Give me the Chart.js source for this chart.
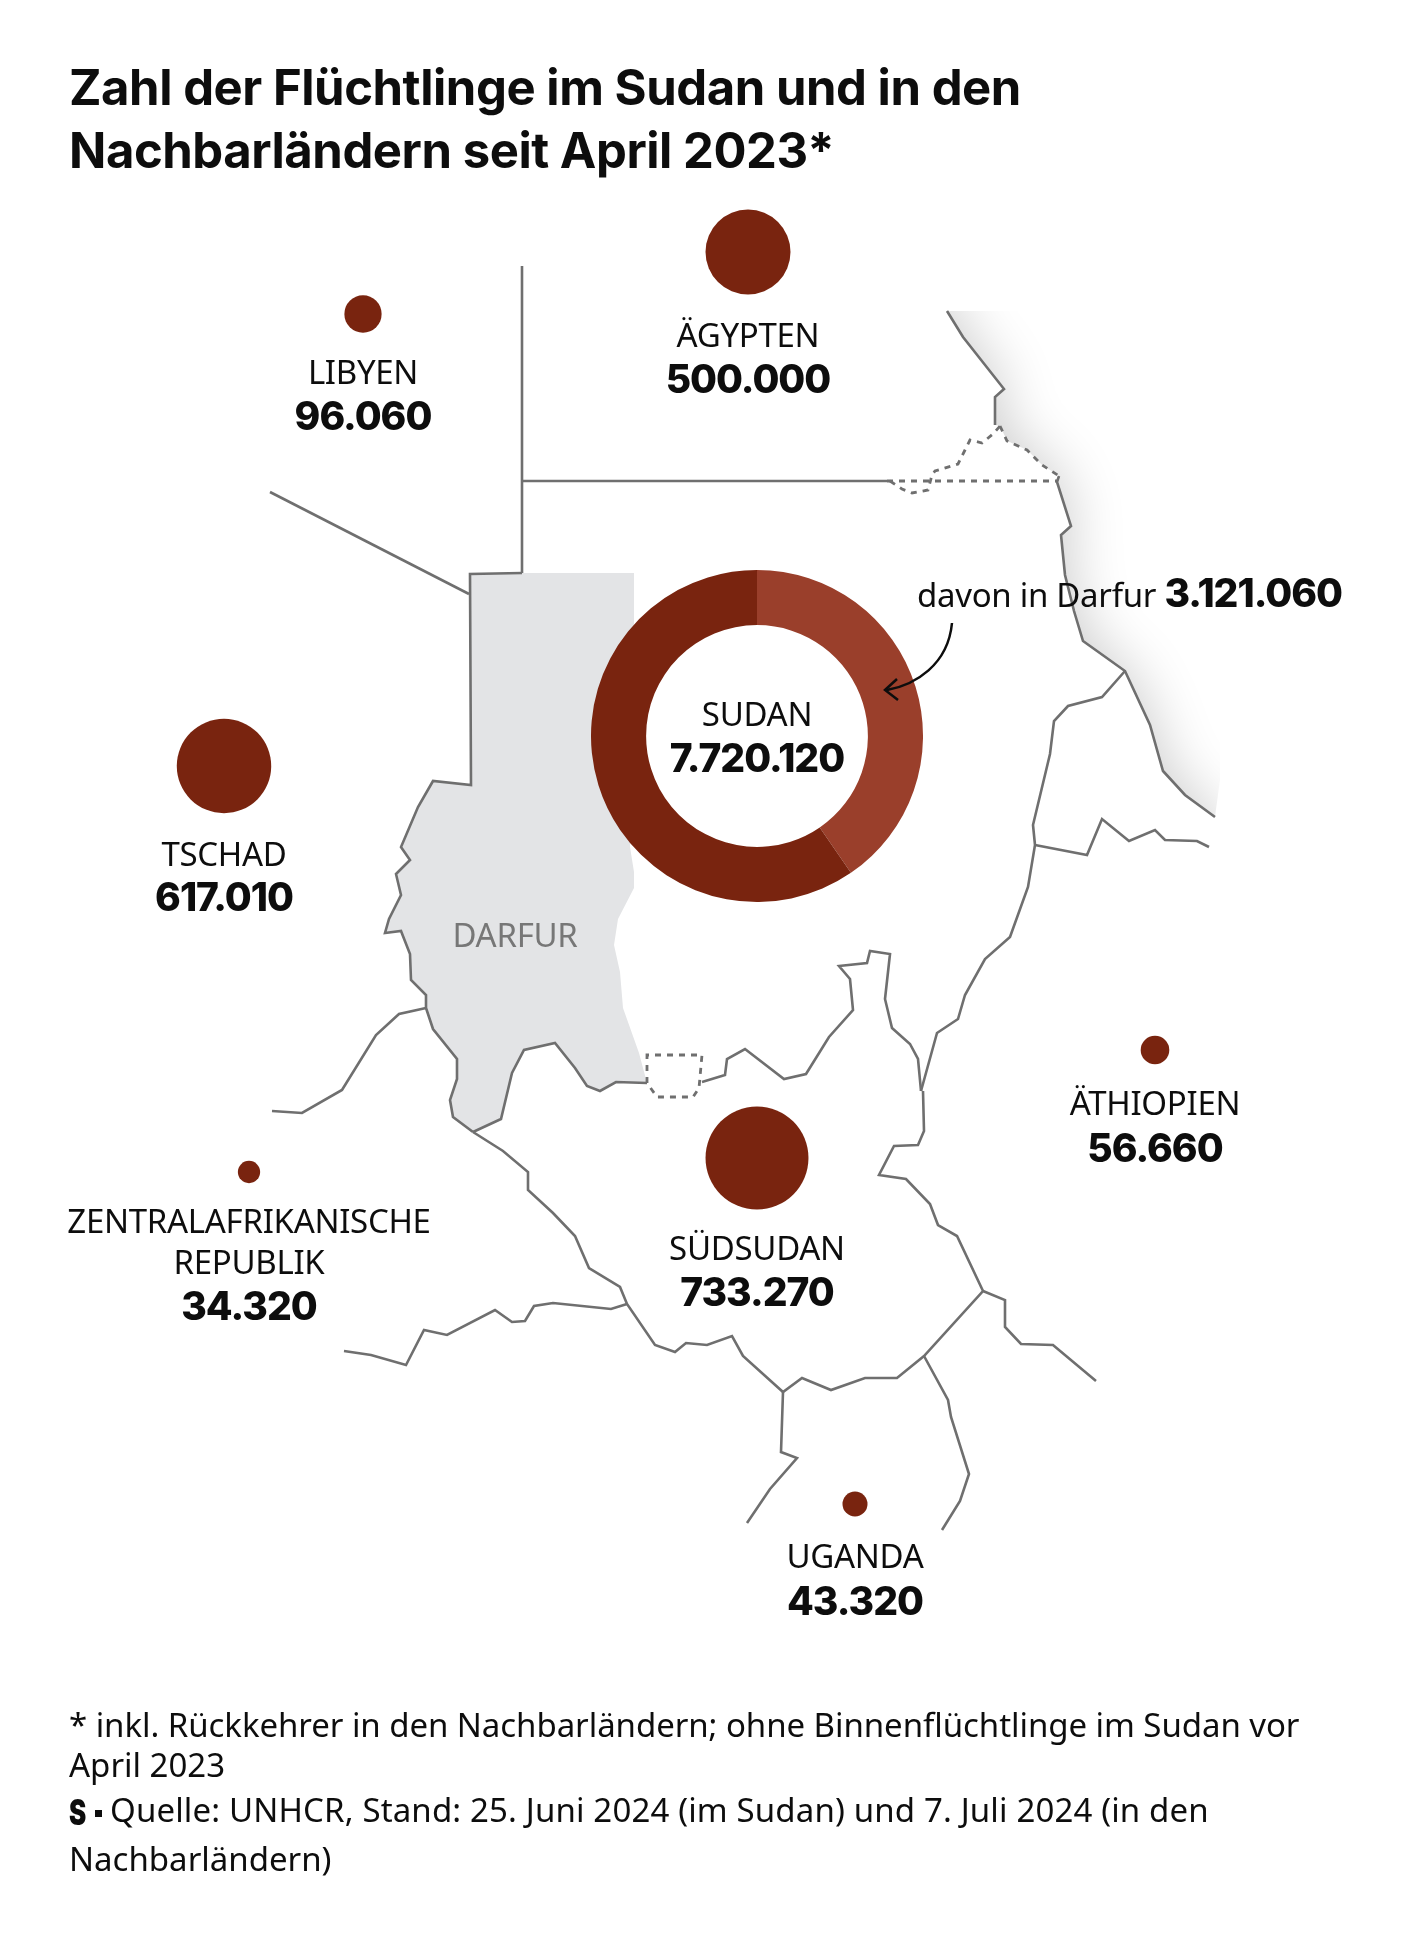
<!DOCTYPE html>
<html lang="de">
<head>
<meta charset="utf-8">
<title>Flüchtlinge Sudan</title>
<script src="https://cdn.jsdelivr.net/npm/chart.js@4/dist/chart.umd.min.js"></script>
<style>
  html, body { margin:0; padding:0; background:#fff; }
  #page { position:relative; width:1420px; height:1944px; overflow:hidden; color:#0d0d0d; }
  canvas { position:absolute; }
  #mapChart { left:0; top:0; }
  #sudanChart { left:591px; top:570px; }
  #arrow { position:absolute; left:0; top:0; }
  .t { position:absolute; white-space:pre-line; line-height:1; }
  .c { transform:translate(-50%,-50%); text-align:center; }
  .name { font:400 33px/41px "Noto Sans",sans-serif; letter-spacing:-.3px; }
  .val { font:800 39px/1 Inter,sans-serif; letter-spacing:-1px; }
  #title { left:69px; top:56px; font:700 49px/63px Inter,sans-serif; letter-spacing:-.45px; }
  .note { left:69px; font:400 33px/1 "Noto Sans",sans-serif; }
  .logo { display:inline-block; width:41px; height:26px; position:relative; vertical-align:-3px; }
  .logo b { position:absolute; left:0; top:-4px; font:900 35px/1 Inter,sans-serif; transform:scaleX(.74); transform-origin:left; }
  .logo i { position:absolute; left:26px; top:11px; width:7px; height:7px; background:#0d0d0d; }
</style>
</head>
<body>
<div id="page">
  <canvas id="mapChart" width="1420" height="1944"></canvas>
  <canvas id="sudanChart" width="332" height="332"></canvas>
  <svg id="arrow" width="1420" height="1944" fill="none" stroke="#0d0d0d" stroke-width="2.5">
    <path d="M952,623 C948,665 915,685 887,690"/>
    <path d="M897,679 L885,690 L898,700"/>
  </svg>
</div>
<script>
const countries = ['ÄGYPTEN','LIBYEN','TSCHAD','SÜDSUDAN','ÄTHIOPIEN','ZENTRALAFRIKANISCHE\nREPUBLIK','UGANDA'];
const refugees = [500000,96060,617010,733270,56660,34320,43320];
const sudanTotal = 7720120;
const darfurPart = 3121060;

// map positions, same units as the hidden x/y scales
const bubbleX = [748,363,224,757,1155,249,855];
const bubbleY = [252,314,766,1158,1050,1172,1504];
const labelY = [334,371,853,1247,1102,1241,1555];
const valueY = [378,415,896,1291,1147,1305,1600];

const coastNorth = [[947,311],[963,337],[1004,389],[995,397],[995,425]];
const coastDashed = [[1000,426],[1007,441],[1027,450],[1042,465],[1059,476]];
const coastSouth = [[1059,476],[1057,482],[1071,526],[1061,535],[1065,575],[1074,611],[1083,641],[1125,671],[1150,725],[1163,771],[1185,795],[1215,817]];
const egyptSudan = [[522,481],[887,481]];
const egyptSudanDashed = [[887,481],[1057,481]];
const halaibWest = [[890,481],[902,489],[912,493],[928,490],[932,475],[935,471],[958,464],[965,450],[970,440],[982,443],[993,434],[1000,426]];
const libyaEgypt = [[522,266],[522,573]];
const libyaChad = [[270,492],[469,594]];
const darfurArea = [[470,573],[634,573],[634,740],[630,847],[634,872],[634,888],[618,919],[614,945],[620,972],[623,1008],[639,1053],[647,1083],[616,1082],[600,1091],[587,1086],[575,1068],[555,1043],[524,1050],[512,1073],[501,1119],[473,1132],[453,1117],[450,1100],[457,1079],[457,1059],[433,1029],[426,1008],[426,995],[411,980],[410,954],[401,931],[385,933],[389,919],[401,895],[396,874],[410,860],[401,847],[418,807],[433,781],[471,785],[470,700]];
const chadWest = [[522,573],[470,574],[471,785],[433,781],[418,807],[401,847],[410,860],[396,874],[401,895],[389,919],[385,933],[401,931],[410,954],[411,980],[426,995],[426,1008],[433,1029],[457,1059],[457,1079],[450,1100],[453,1117],[473,1132]];
const darfurSouth = [[473,1132],[501,1119],[512,1073],[524,1050],[555,1043],[575,1068],[587,1086],[600,1091],[616,1082],[647,1083]];
const abyeiBox = [[647,1083],[647,1055],[702,1055],[699,1088],[693,1097],[657,1097],[647,1083]];
const southSudanNorth = [[702,1082],[725,1075],[727,1059],[745,1049],[784,1079],[806,1074],[829,1037],[853,1010],[850,979],[839,966],[867,963],[870,951],[890,954],[885,999],[892,1028],[910,1044],[918,1059],[921,1091]];
const southSudanEast = [[923,1091],[924,1131],[918,1145],[894,1146],[879,1175],[906,1179],[930,1204],[938,1225],[957,1236],[983,1291],[924,1356],[897,1378],[865,1378],[831,1390],[802,1378],[783,1392],[743,1356],[732,1336],[707,1345],[686,1343],[675,1352],[655,1345],[627,1304],[620,1287],[589,1268],[575,1236],[553,1213],[528,1190],[528,1172],[503,1151],[473,1132]];
const ethiopiaSudan = [[1125,671],[1102,697],[1068,706],[1054,721],[1050,754],[1033,825],[1035,845],[1028,887],[1010,937],[985,959],[965,995],[958,1019],[937,1033],[921,1091]];
const eritreaEthiopia = [[1035,845],[1087,855],[1102,819],[1129,841],[1155,830],[1165,840],[1197,841],[1209,847]];
const chadCar = [[426,1008],[399,1014],[376,1035],[342,1090],[302,1113],[272,1111]];
const carDrc = [[627,1304],[611,1309],[553,1303],[534,1306],[525,1321],[512,1322],[495,1310],[447,1335],[424,1330],[406,1365],[371,1355],[344,1351]];
const ethiopiaKenya = [[983,1291],[1005,1300],[1005,1327],[1021,1344],[1053,1345],[1096,1381]];
const ugandaKenya = [[924,1356],[948,1400],[951,1417],[969,1474],[960,1501],[942,1530]];
const ugandaDrc = [[783,1392],[781,1452],[797,1458],[770,1489],[747,1523]];

const DARK = '#79240f';
const LIGHT = '#9a3f2b';
const LINE = '#6f6f6f';

const toXY = list => list.map(p => ({x:p[0], y:p[1]}));
const radius = v => Math.sqrt(v / 500000) * 42.5;

const solid = list => ({type:'line', data:toXY(list), borderColor:LINE, borderWidth:2.6, pointRadius:0, tension:0, fill:false, order:2});
const dashed = list => Object.assign(solid(list), {borderDash:[6,6], borderWidth:2.8});

// soft grey shadow to the east of the coast
const coastShadow = {
  id:'coastShadow',
  beforeDatasetsDraw(chart){
    const {ctx, scales:{x,y}} = chart;
    const coast = coastNorth.concat(coastDashed, coastSouth).map(p => [x.getPixelForValue(p[0]), y.getPixelForValue(p[1])]);
    ctx.save();
    ctx.beginPath();
    coast.forEach((p,i) => i ? ctx.lineTo(p[0],p[1]) : ctx.moveTo(p[0],p[1]));
    ctx.lineTo(1220,780); ctx.lineTo(1220,311);
    ctx.closePath();
    ctx.clip();
    ctx.beginPath();
    coast.forEach((p,i) => i ? ctx.lineTo(p[0],p[1]) : ctx.moveTo(p[0],p[1]));
    ctx.lineTo(1215,880); ctx.lineTo(700,880); ctx.lineTo(700,290); ctx.lineTo(947,290);
    ctx.closePath();
    ctx.shadowColor = 'rgba(0,0,0,.2)';
    ctx.shadowBlur = 56;
    ctx.shadowOffsetX = 4;
    ctx.fillStyle = '#fff';
    ctx.fill();
    ctx.restore();
  }
};

new Chart(document.getElementById('mapChart'), {
  type:'scatter',
  data:{
    datasets:[
      {type:'bubble', data:refugees.map((v,i) => ({x:bubbleX[i], y:bubbleY[i], r:radius(v)})), backgroundColor:DARK, borderWidth:0, order:1},
      solid(coastNorth), dashed(coastDashed), solid(coastSouth),
      solid(egyptSudan), dashed(egyptSudanDashed), dashed(halaibWest),
      solid(libyaEgypt), solid(libyaChad), solid(chadWest), solid(darfurSouth), dashed(abyeiBox),
      solid(southSudanNorth), solid(southSudanEast), solid(ethiopiaSudan), solid(eritreaEthiopia),
      solid(chadCar), solid(carDrc), solid(ethiopiaKenya), solid(ugandaKenya), solid(ugandaDrc),
      {type:'line', data:toXY(darfurArea), borderWidth:0, pointRadius:0, tension:0, fill:'shape', backgroundColor:'#e3e4e6', order:3}
    ]
  },
  options:{
    responsive:false,
    animation:false,
    layout:{padding:0, autoPadding:false},
    scales:{
      x:{type:'linear', min:0, max:1420, display:false},
      y:{type:'linear', min:0, max:1944, reverse:true, display:false}
    },
    plugins:{legend:{display:false}, tooltip:{enabled:false}}
  },
  plugins:[coastShadow]
});

new Chart(document.getElementById('sudanChart'), {
  type:'doughnut',
  data:{
    labels:['Darfur','Übriger Sudan'],
    datasets:[{data:[darfurPart, sudanTotal - darfurPart], backgroundColor:[LIGHT, DARK], borderWidth:0}]
  },
  options:{
    responsive:false,
    animation:false,
    layout:{autoPadding:false},
    cutout:'66.8%',
    plugins:{legend:{display:false}, tooltip:{enabled:false}}
  }
});

const page = document.getElementById('page');
function addText(text, cls, left, top, extra){
  const div = document.createElement('div');
  div.className = 't ' + cls;
  div.textContent = text;
  if (left !== null) div.style.left = left + 'px';
  div.style.top = top + 'px';
  if (extra) Object.assign(div.style, extra);
  page.appendChild(div);
  return div;
}
const fmt = v => v.toLocaleString('de-DE');

const title = addText('Zahl der Flüchtlinge im Sudan und in den\nNachbarländern seit April 2023*', '', null, 56);
title.id = 'title';

countries.forEach((name,i) => {
  addText(name, 'c name', bubbleX[i], labelY[i]);
  addText(fmt(refugees[i]), 'c val', bubbleX[i], valueY[i]);
});
addText('SUDAN', 'c name', 757, 713);
addText(fmt(sudanTotal), 'c val', 757, 757);
addText('DARFUR', 'c name', 515, 934, {color:'#777'});

const darfurNote = addText('davon in Darfur ', 'name', 917, 573);
const darfurVal = document.createElement('span');
darfurVal.className = 'val';
darfurVal.textContent = fmt(darfurPart);
darfurNote.appendChild(darfurVal);

addText('* inkl. Rückkehrer in den Nachbarländern; ohne Binnenflüchtlinge im Sudan vor', 'note', null, 1708, {letterSpacing:'-.06px'});
addText('April 2023', 'note', null, 1748);
const source = addText('', 'note', null, 1793, {letterSpacing:'.14px'});
const logo = document.createElement('span');
logo.className = 'logo';
const logoS = document.createElement('b');
logoS.textContent = 'S';
logo.appendChild(logoS);
logo.appendChild(document.createElement('i'));
source.appendChild(logo);
source.appendChild(document.createTextNode('Quelle: UNHCR, Stand: 25. Juni 2024 (im Sudan) und 7. Juli 2024 (in den'));
addText('Nachbarländern)', 'note', null, 1842);
</script>
</body>
</html>
